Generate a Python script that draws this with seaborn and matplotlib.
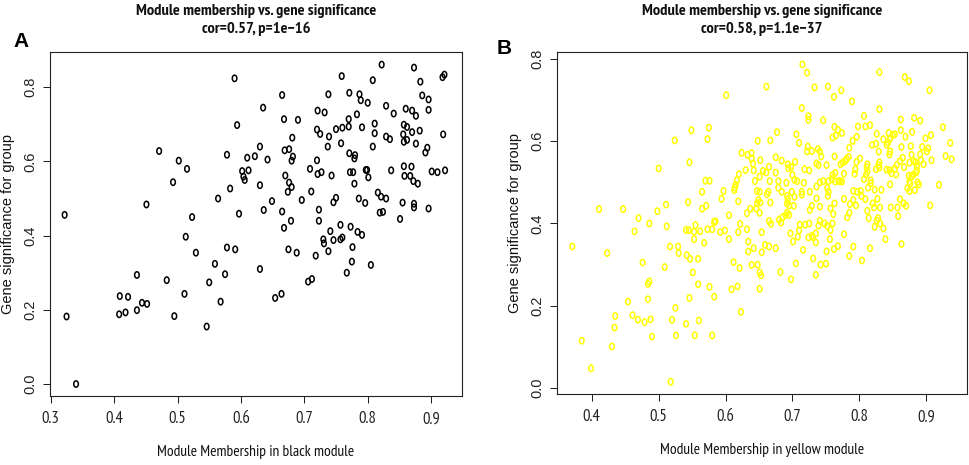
import matplotlib
matplotlib.use("Agg")
import matplotlib.pyplot as plt
import seaborn as sns
import pandas as pd
from matplotlib.path import Path
from matplotlib.transforms import Affine2D

# panel A: black module
mm_black = [0.322, 0.451, 0.471, 0.502, 0.515, 0.493, 0.523, 0.513, 0.590, 0.594,
            0.578, 0.583, 0.564, 0.597, 0.602, 0.604, 0.606, 0.612, 0.610, 0.622,
            0.630, 0.642, 0.630, 0.635, 0.649, 0.636, 0.665, 0.668, 0.690, 0.681,
            0.669, 0.676, 0.682, 0.680, 0.670, 0.676, 0.680, 0.674, 0.696, 0.711,
            0.665, 0.679, 0.668, 0.709, 0.720, 0.721, 0.732, 0.725, 0.720, 0.721,
            0.727, 0.723, 0.723, 0.738, 0.739, 0.737, 0.743, 0.746, 0.750, 0.741,
            0.730, 0.746, 0.757, 0.760, 0.757, 0.759, 0.750, 0.760, 0.758, 0.771,
            0.770, 0.770, 0.783, 0.787, 0.789, 0.800, 0.791, 0.771, 0.779, 0.780,
            0.772, 0.777, 0.779, 0.797, 0.799, 0.801, 0.786, 0.796, 0.773, 0.784,
            0.791, 0.808, 0.822, 0.811, 0.811, 0.808, 0.829, 0.829, 0.835, 0.841,
            0.837, 0.816, 0.821, 0.829, 0.819, 0.824, 0.851, 0.873, 0.883, 0.886,
            0.896, 0.860, 0.870, 0.876, 0.896, 0.857, 0.862, 0.856, 0.870, 0.882,
            0.857, 0.862, 0.876, 0.894, 0.891, 0.857, 0.869, 0.858, 0.867, 0.872,
            0.879, 0.901, 0.910, 0.922, 0.855, 0.873, 0.873, 0.896, 0.918, 0.921,
            0.919, 0.731, 0.325, 0.340, 0.408, 0.409, 0.418, 0.422, 0.436, 0.436,
            0.444, 0.452, 0.483, 0.495, 0.511, 0.529, 0.546, 0.550, 0.559, 0.575,
            0.568, 0.578, 0.591, 0.630, 0.654, 0.664, 0.675, 0.688, 0.706, 0.712,
            0.718, 0.738, 0.767, 0.775, 0.776, 0.805]
gs_black = [0.456, 0.484, 0.628, 0.602, 0.580, 0.544, 0.450, 0.397, 0.824, 0.698,
            0.618, 0.527, 0.500, 0.459, 0.574, 0.559, 0.550, 0.576, 0.610, 0.614,
            0.640, 0.605, 0.536, 0.745, 0.493, 0.469, 0.779, 0.714, 0.712, 0.664,
            0.630, 0.633, 0.613, 0.602, 0.562, 0.543, 0.531, 0.518, 0.496, 0.519,
            0.465, 0.440, 0.421, 0.580, 0.686, 0.737, 0.732, 0.674, 0.603, 0.566,
            0.571, 0.470, 0.440, 0.781, 0.667, 0.640, 0.562, 0.490, 0.502, 0.412,
            0.390, 0.388, 0.390, 0.395, 0.429, 0.830, 0.687, 0.691, 0.649, 0.785,
            0.714, 0.694, 0.727, 0.781, 0.765, 0.758, 0.692, 0.622, 0.608, 0.617,
            0.571, 0.571, 0.540, 0.577, 0.577, 0.557, 0.500, 0.488, 0.424, 0.410,
            0.402, 0.819, 0.861, 0.702, 0.676, 0.640, 0.750, 0.667, 0.660, 0.729,
            0.576, 0.516, 0.505, 0.500, 0.462, 0.464, 0.445, 0.853, 0.815, 0.778,
            0.767, 0.742, 0.737, 0.723, 0.739, 0.699, 0.693, 0.673, 0.679, 0.683,
            0.653, 0.658, 0.648, 0.637, 0.624, 0.587, 0.586, 0.561, 0.561, 0.547,
            0.540, 0.573, 0.571, 0.576, 0.489, 0.486, 0.476, 0.473, 0.827, 0.834,
            0.673, 0.379, 0.182, 0.000, 0.188, 0.237, 0.193, 0.235, 0.294, 0.199,
            0.219, 0.216, 0.280, 0.183, 0.243, 0.354, 0.155, 0.274, 0.324, 0.296,
            0.222, 0.368, 0.363, 0.310, 0.232, 0.243, 0.363, 0.354, 0.276, 0.283,
            0.346, 0.358, 0.300, 0.330, 0.369, 0.321]

# panel B: yellow module
mm_yellow = [0.549, 0.575, 0.524, 0.573, 0.546, 0.500, 0.570, 0.576, 0.565,
             0.715, 0.722, 0.661, 0.601, 0.733, 0.753, 0.762, 0.714, 0.724, 0.724,
             0.746, 0.763, 0.768, 0.760, 0.765, 0.677, 0.706, 0.648, 0.667, 0.710,
             0.723, 0.729, 0.722, 0.738, 0.741, 0.743, 0.763, 0.624, 0.633, 0.639,
             0.639, 0.641, 0.652, 0.675, 0.684, 0.704, 0.693, 0.694, 0.698, 0.665,
             0.656, 0.661, 0.642, 0.630, 0.620, 0.675, 0.718, 0.725, 0.736, 0.739,
             0.751, 0.764, 0.760, 0.617, 0.615, 0.644, 0.651, 0.666, 0.700, 0.703,
             0.679, 0.691, 0.707, 0.717, 0.741, 0.746, 0.754, 0.759, 0.597, 0.613,
             0.614, 0.647, 0.651, 0.664, 0.679, 0.684, 0.699, 0.714, 0.726, 0.736,
             0.752, 0.754, 0.764, 0.769,
             0.830, 0.868, 0.874, 0.905, 0.773, 0.789, 0.830, 0.807, 0.862, 0.882,
             0.891, 0.798, 0.809, 0.816, 0.925, 0.774, 0.862, 0.844, 0.879, 0.826,
             0.796, 0.850, 0.853, 0.869, 0.836, 0.846, 0.899, 0.907, 0.790, 0.843,
             0.841, 0.819, 0.825, 0.863, 0.877, 0.894, 0.903, 0.936, 0.785, 0.829,
             0.845, 0.846, 0.891, 0.901, 0.784, 0.781, 0.779, 0.801, 0.929, 0.938,
             0.865, 0.861, 0.878, 0.881, 0.884, 0.892, 0.896, 0.908, 0.796, 0.775,
             0.772, 0.812, 0.811, 0.830, 0.829, 0.830, 0.856, 0.853, 0.867, 0.875,
             0.886, 0.886, 0.845, 0.848, 0.841, 0.825, 0.794, 0.793, 0.810, 0.812,
             0.777, 0.855, 0.885, 0.881, 0.878, 0.874, 0.807, 0.817, 0.771, 0.774,
             0.817, 0.875, 0.876, 0.887, 0.889, 0.919, 0.791, 0.802, 0.797, 0.813,
             0.823, 0.833, 0.846, 0.872, 0.875, 0.883,
             0.411, 0.447, 0.498, 0.511, 0.544, 0.565, 0.571, 0.470, 0.486, 0.464,
             0.512, 0.541, 0.545, 0.555, 0.553, 0.562, 0.573, 0.580, 0.583, 0.553,
             0.568, 0.423, 0.517, 0.529, 0.530, 0.542, 0.547, 0.559, 0.476, 0.509,
             0.551, 0.484, 0.486, 0.559, 0.576, 0.583, 0.454, 0.484, 0.546, 0.525,
             0.435, 0.461, 0.469, 0.479, 0.488, 0.520, 0.541, 0.560, 0.434,
             0.594, 0.619, 0.649, 0.652, 0.647, 0.662, 0.692, 0.693, 0.692, 0.695,
             0.703, 0.667, 0.714, 0.736, 0.753, 0.702, 0.729, 0.726, 0.741, 0.757,
             0.763, 0.761, 0.637, 0.632, 0.646, 0.651, 0.605, 0.692, 0.690, 0.695,
             0.685, 0.680, 0.683, 0.665, 0.668, 0.585, 0.622, 0.592, 0.599, 0.632,
             0.619, 0.654, 0.711, 0.719, 0.725, 0.741, 0.739, 0.748, 0.752, 0.760,
             0.757, 0.710, 0.708, 0.697, 0.724, 0.729, 0.735, 0.731, 0.756, 0.735,
             0.701, 0.605, 0.634, 0.634, 0.642, 0.659, 0.665, 0.654, 0.675, 0.716,
             0.751, 0.762, 0.768, 0.731, 0.612, 0.621, 0.639, 0.648, 0.705, 0.742,
             0.750, 0.651, 0.653, 0.682, 0.698, 0.735, 0.609, 0.618, 0.651, 0.623,
             0.777, 0.786, 0.795, 0.791, 0.803, 0.809, 0.820, 0.822, 0.827, 0.831,
             0.847, 0.857, 0.861, 0.866, 0.870, 0.906, 0.785, 0.782, 0.812, 0.814,
             0.828, 0.826, 0.831, 0.858, 0.823, 0.836, 0.777, 0.839, 0.863, 0.791,
             0.816, 0.785, 0.804,
             0.371, 0.385, 0.399, 0.430, 0.490, 0.518, 0.526, 0.554, 0.580]
gs_yellow = [0.627, 0.633, 0.602, 0.605, 0.549, 0.534, 0.504, 0.504, 0.477,
             0.787, 0.767, 0.733, 0.712, 0.731, 0.733, 0.708, 0.681, 0.661, 0.652,
             0.651, 0.635, 0.628, 0.609, 0.614, 0.622, 0.617, 0.601, 0.602, 0.596,
             0.587, 0.576, 0.575, 0.581, 0.575, 0.563, 0.563, 0.572, 0.567, 0.571,
             0.558, 0.545, 0.554, 0.561, 0.553, 0.550, 0.544, 0.534, 0.537, 0.538,
             0.528, 0.524, 0.529, 0.530, 0.520, 0.524, 0.532, 0.529, 0.546, 0.542,
             0.542, 0.523, 0.518, 0.505, 0.494, 0.503, 0.514, 0.503, 0.518, 0.506,
             0.503, 0.499, 0.503, 0.499, 0.500, 0.503, 0.503, 0.508, 0.479, 0.481,
             0.487, 0.479, 0.477, 0.477, 0.487, 0.477, 0.477, 0.477, 0.477, 0.490,
             0.486, 0.477, 0.502, 0.503,
             0.768, 0.756, 0.746, 0.724, 0.724, 0.697, 0.678, 0.662, 0.653, 0.657,
             0.650, 0.636, 0.636, 0.639, 0.634, 0.620, 0.627, 0.620, 0.623, 0.618,
             0.611, 0.615, 0.617, 0.611, 0.605, 0.607, 0.607, 0.615, 0.601, 0.597,
             0.591, 0.591, 0.594, 0.586, 0.588, 0.586, 0.583, 0.596, 0.584, 0.575,
             0.568, 0.575, 0.568, 0.575, 0.562, 0.557, 0.552, 0.558, 0.564, 0.556,
             0.560, 0.552, 0.567, 0.552, 0.549, 0.554, 0.544, 0.554, 0.550, 0.548,
             0.544, 0.544, 0.537, 0.549, 0.542, 0.536, 0.542, 0.533, 0.537, 0.548,
             0.539, 0.529, 0.530, 0.522, 0.531, 0.532, 0.532, 0.521, 0.519, 0.526,
             0.521, 0.519, 0.524, 0.519, 0.514, 0.516, 0.508, 0.505, 0.503, 0.502,
             0.498, 0.502, 0.497, 0.500, 0.495, 0.494, 0.479, 0.479, 0.477, 0.487,
             0.482, 0.482, 0.495, 0.486, 0.479, 0.481,
             0.435, 0.435, 0.430, 0.446, 0.452, 0.436, 0.443, 0.413, 0.400, 0.381,
             0.393, 0.384, 0.384, 0.396, 0.380, 0.381, 0.386, 0.386, 0.404, 0.362,
             0.353, 0.328, 0.344, 0.344, 0.328, 0.323, 0.314, 0.314, 0.305, 0.294,
             0.281, 0.253, 0.259, 0.252, 0.246, 0.222, 0.210, 0.216, 0.219, 0.195,
             0.175, 0.177, 0.166, 0.160, 0.167, 0.166, 0.156, 0.164, 0.147,
             0.460, 0.454, 0.457, 0.451, 0.449, 0.471, 0.467, 0.459, 0.449, 0.444,
             0.465, 0.451, 0.470, 0.461, 0.467, 0.443, 0.443, 0.433, 0.441, 0.437,
             0.449, 0.423, 0.436, 0.425, 0.436, 0.426, 0.420, 0.426, 0.420, 0.421,
             0.415, 0.409, 0.402, 0.406, 0.399, 0.405, 0.399, 0.379, 0.383, 0.386,
             0.379, 0.379, 0.397, 0.397, 0.400, 0.407, 0.395, 0.400, 0.394, 0.400,
             0.384, 0.383, 0.368, 0.376, 0.366, 0.370, 0.376, 0.366, 0.362, 0.354,
             0.356, 0.362, 0.356, 0.332, 0.340, 0.348, 0.344, 0.330, 0.340, 0.336,
             0.332, 0.338, 0.345, 0.315, 0.306, 0.292, 0.299, 0.300, 0.303, 0.300,
             0.302, 0.281, 0.274, 0.282, 0.264, 0.275, 0.240, 0.247, 0.241, 0.185,
             0.460, 0.447, 0.444, 0.457, 0.467, 0.459, 0.449, 0.439, 0.460, 0.439,
             0.439, 0.439, 0.459, 0.449, 0.443, 0.444, 0.426, 0.415, 0.431, 0.413,
             0.413, 0.407, 0.400, 0.418, 0.392, 0.388, 0.374, 0.362, 0.350, 0.344,
             0.340, 0.321, 0.310,
             0.344, 0.115, 0.048, 0.101, 0.125, 0.015, 0.128, 0.128, 0.128]

# the source image is squeezed sideways, so horizontal text uses a narrow face
narrow = ["PT Sans Narrow", "Roboto Condensed", "Archivo Narrow", "Liberation Sans"]
regular = ["Liberation Sans", "DejaVu Sans"]

# R draws open circles; squeezed they become upright ovals
oval = Path.unit_circle().transformed(Affine2D().scale(0.72, 1.0))

fig = plt.figure(figsize=(9.69, 4.65), dpi=100)
axA = fig.add_axes([50 / 969, 69 / 465, 412 / 969, 344 / 465])
axB = fig.add_axes([557 / 969, 71 / 465, 410 / 969, 342 / 465])

panels = [
    (axA, mm_black, gs_black, "black", "black", "cor=0.57, p=1e\u221216",
     [0.3, 0.4, 0.5, 0.6, 0.7, 0.8, 0.9], (0.2989, 0.9487), (-0.0323, 0.895)),
    (axB, mm_yellow, gs_yellow, "yellow", "#ffff00", "cor=0.58, p=1.1e\u221237",
     [0.4, 0.5, 0.6, 0.7, 0.8, 0.9], (0.348, 0.961), (-0.0146, 0.817)),
]

for ax, xs, ys, module, col, stats, xt, xlim, ylim in panels:
    df = pd.DataFrame({"mm": xs, "gs": ys})
    sns.scatterplot(data=df, x="mm", y="gs", ax=ax, marker=oval, s=21,
                    facecolor="none", edgecolor=col, linewidth=1.1, legend=False)
    ax.set_xlim(*xlim)
    ax.set_ylim(*ylim)
    ax.set_xticks(xt)
    ax.set_xticklabels([f"{v:.1f}" for v in xt], fontfamily=narrow, fontsize=12)
    yt = [0.0, 0.2, 0.4, 0.6, 0.8]
    ax.set_yticks(yt)
    ax.set_yticklabels([f"{v:.1f}" for v in yt], rotation=90, va="center",
                       fontfamily=regular, fontsize=10.5)
    ax.tick_params(axis="x", length=5, width=0.75, pad=6, colors="#222222")
    ax.tick_params(axis="y", length=5, width=0.75, pad=4, colors="#222222")
    for sp in ax.spines.values():
        sp.set_linewidth(0.8)
        sp.set_color("#222222")
    ax.set_xlabel(f"Module Membership in {module} module", fontfamily=narrow,
                  fontsize=11.2, color="#111111")
    ax.xaxis.set_label_coords(0.5, -0.142)
    ax.set_ylabel("Gene significance for group", fontfamily=regular,
                  fontsize=10.5, color="#111111")
    ax.yaxis.label.set_va("center")
    ax.yaxis.set_label_coords(-0.103, 0.5)
    ax.text(0.5, 1.108, "Module membership vs. gene significance",
            transform=ax.transAxes, ha="center", va="baseline",
            fontfamily=narrow, fontweight="bold", fontsize=11.8, color="#111111")
    ax.text(0.5, 1.055, stats, transform=ax.transAxes, ha="center",
            va="baseline", fontfamily=narrow, fontweight="bold", fontsize=11.8,
            color="#111111")

fig.text(13 / 969, 1 - 47 / 465, "A", fontfamily=regular, fontweight="bold",
         fontsize=15, va="baseline")
fig.text(497 / 969, 1 - 54 / 465, "B", fontfamily=regular, fontweight="bold",
         fontsize=15, va="baseline")

fig.savefig("out.png", dpi=100)
